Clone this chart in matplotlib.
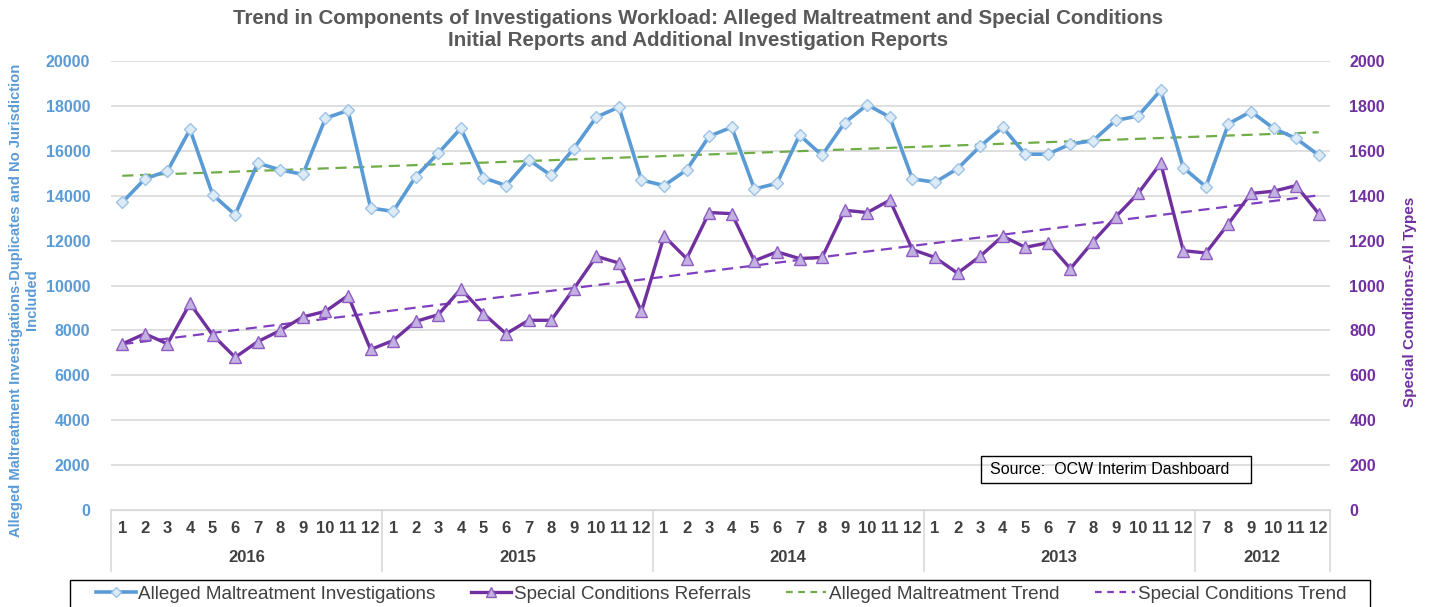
from __future__ import annotations

import matplotlib
matplotlib.use("Agg")
import matplotlib.pyplot as plt
import matplotlib.transforms as mtransforms
from matplotlib.lines import Line2D
import numpy as np


YEARS = ["2016", "2015", "2014", "2013", "2012"]
YEAR_MONTHS = [
    list(range(1, 13)),
    list(range(1, 13)),
    list(range(1, 13)),
    list(range(1, 13)),
    list(range(7, 13)),
]

ALLEGED = [
    13700, 14750, 15100, 16950, 14050, 13150, 15450, 15150, 14950, 17450, 17800, 13450,
    13300, 14850, 15900, 17000, 14800, 14450, 15600, 14900, 16100, 17500, 17950, 14700,
    14450, 15150, 16650, 17050, 14300, 14550, 16700, 15800, 17250, 18050, 17500, 14750,
    14600, 15200, 16200, 17050, 15850, 15850, 16300, 16450, 17350, 17550, 18700, 15250,
    14400, 17200, 17750, 17000, 16550, 15800,
]

SPECIAL = [
    740, 785, 740, 920, 780, 680, 750, 800, 860, 885, 955, 715,
    755, 840, 870, 985, 875, 785, 845, 845, 985, 1130, 1100, 885,
    1220, 1120, 1325, 1320, 1110, 1150, 1120, 1125, 1335, 1325, 1380, 1160,
    1125, 1055, 1130, 1220, 1170, 1190, 1075, 1195, 1305, 1410, 1545, 1155,
    1145, 1275, 1410, 1420, 1445, 1320,
]

BLUE = "#5B9BD5"
PURPLE = "#7030A0"
GREEN = "#70AD47"
GRAY_TXT = "#404040"

plt.rcParams["font.family"] = ["Liberation Sans", "DejaVu Sans"]


def main() -> None:
    months = [m for ms in YEAR_MONTHS for m in ms]
    x = np.arange(len(months))

    fig = plt.figure(figsize=(14.32, 6.07), dpi=100)
    ax = fig.add_axes([111 / 1432, 1 - 510 / 607, (1330 - 111) / 1432, (510 - 61) / 607])
    ax2 = ax.twinx()

    ax.set_xlim(-0.5, len(months) - 0.5)
    ax.set_ylim(0, 20000)
    ax2.set_ylim(0, 2000)
    ax.set_yticks(np.arange(0, 20001, 2000))
    ax2.set_yticks(np.arange(0, 2001, 200))
    ax.grid(axis="y", color="#D9D9D9", linewidth=1.2)
    ax.set_axisbelow(True)

    for a in (ax, ax2):
        for side in ("left", "right", "top"):
            a.spines[side].set_visible(False)
        a.spines["bottom"].set_color("#D9D9D9")
        a.tick_params(length=0)

    for lab in ax.get_yticklabels():
        lab.set_color(BLUE)
        lab.set_fontweight("bold")
        lab.set_fontsize(11.5)
    ax.tick_params(axis="y", pad=15)
    for lab in ax2.get_yticklabels():
        lab.set_color(PURPLE)
        lab.set_fontweight("bold")
        lab.set_fontsize(11.5)
    ax2.tick_params(axis="y", pad=14)

    ax.set_xticks(x)
    ax.set_xticklabels([str(m) for m in months], fontsize=12, fontweight="bold",
                       color=GRAY_TXT)
    ax.tick_params(axis="x", pad=8)

    # year groups and separators below the axis
    trans = mtransforms.blended_transform_factory(ax.transData, ax.transAxes)
    start = 0
    bounds = [-0.5]
    for year, ms in zip(YEARS, YEAR_MONTHS):
        end = start + len(ms)
        ax.text((start + end - 1) / 2, -0.105, year, transform=trans, ha="center",
                va="center", fontsize=12, fontweight="bold", color=GRAY_TXT)
        bounds.append(end - 0.5)
        start = end
    for b in bounds:
        ax.plot([b, b], [0, -0.135], transform=trans, color="#D9D9D9", lw=1.2, clip_on=False)

    # data lines
    ax.plot(x, ALLEGED, color=BLUE, lw=2.6, marker="D", markersize=6.5,
            markerfacecolor="#DDEBF7", markeredgecolor="#9DC3E6", markeredgewidth=1, zorder=4)
    ax2.plot(x, SPECIAL, color=PURPLE, lw=2.4, marker="^", markersize=8,
             markerfacecolor="#C3B1E1", markeredgecolor="#8E5CC2", markeredgewidth=1, zorder=4)

    # linear trends
    ka, ba = np.polyfit(x, ALLEGED, 1)
    ks, bs = np.polyfit(x, SPECIAL, 1)
    ax.plot(x, ka * x + ba, color=GREEN, lw=1.6, dashes=(5, 3), zorder=3)
    ax2.plot(x, ks * x + bs, color="#7F3FBF", lw=1.6, dashes=(5, 3), zorder=3)

    fig.text(698 / 1432, 1 - 18 / 607,
             "Trend in Components of Investigations Workload: Alleged Maltreatment and Special Conditions",
             ha="center", va="center", fontsize=14.8, fontweight="bold", color="#595959")
    fig.text(698 / 1432, 1 - 41 / 607, "Initial Reports and Additional Investigation Reports",
             ha="center", va="center", fontsize=14.8, fontweight="bold", color="#595959")

    fig.text(24 / 1432, 1 - 300 / 607,
             "Alleged Maltreatment Investigations-Duplicates and No Jurisdiction\nIncluded",
             rotation=90, ha="center", va="center", fontsize=10.6, fontweight="bold",
             color=BLUE, linespacing=1.15)
    fig.text(1410 / 1432, 1 - 302 / 607, "Special Conditions-All Types", rotation=90,
             ha="center", va="center", fontsize=11, fontweight="bold", color=PURPLE)

    fig.text(1110 / 1432, 1 - 469 / 607, "Source:  OCW Interim Dashboard", ha="center",
             va="center", fontsize=11.5, color="black")
    fig.patches.append(plt.Rectangle((981 / 1432, 1 - 483 / 607), 270 / 1432, 27 / 607,
                                     transform=fig.transFigure, fill=False, ec="black", lw=1))

    # legend frame drawn separately so the entries can sit inset from it
    fig.patches.append(plt.Rectangle((70 / 1432, -10 / 607), 1300 / 1432, (607 - 580 + 10) / 607,
                                     transform=fig.transFigure, fill=False, ec="black", lw=1))
    handles = [
        Line2D([], [], color=BLUE, lw=2.6, marker="D", markersize=5.5,
               markerfacecolor="#DDEBF7", markeredgecolor="#9DC3E6"),
        Line2D([], [], color=PURPLE, lw=2.4, marker="^", markersize=7,
               markerfacecolor="#C3B1E1", markeredgecolor="#8E5CC2"),
        Line2D([], [], color=GREEN, lw=1.6, dashes=(3, 2.5)),
        Line2D([], [], color="#7F3FBF", lw=1.6, dashes=(3, 2.5)),
    ]
    labels = ["Alleged Maltreatment Investigations", "Special Conditions Referrals",
              "Alleged Maltreatment Trend", "Special Conditions Trend"]
    leg = fig.legend(handles, labels, ncol=4, loc="center left", mode="expand",
                     bbox_to_anchor=(96 / 1432, 1 - 594 / 607, (1346 - 96) / 1432, 0),
                     borderaxespad=0, frameon=False, prop={"size": 13.6}, handlelength=2.1,
                     columnspacing=1.0, handletextpad=0.15, borderpad=0)
    for t in leg.get_texts():
        t.set_color(GRAY_TXT)

    fig.savefig("out.png", dpi=100)
    plt.close(fig)


if __name__ == "__main__":
    main()
